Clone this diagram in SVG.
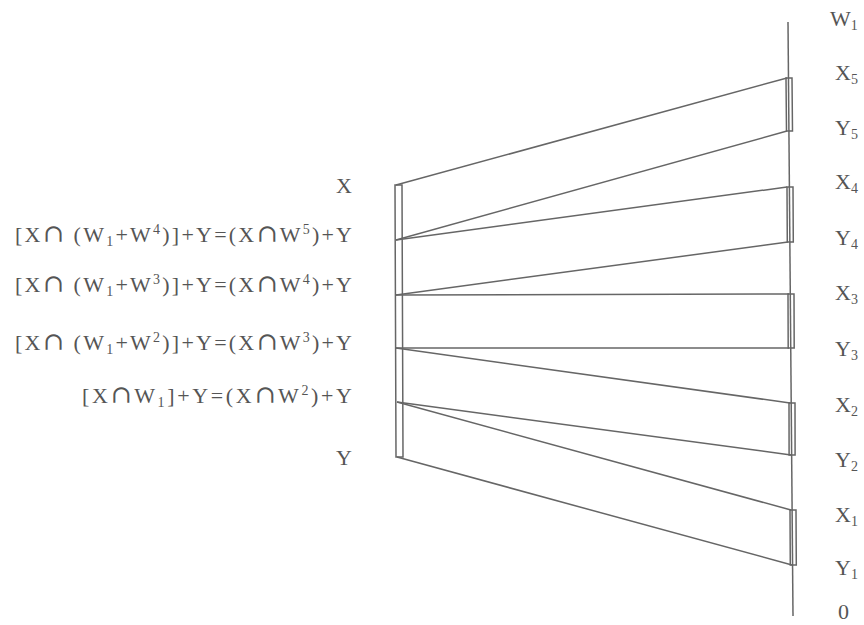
<svg xmlns="http://www.w3.org/2000/svg" width="864" height="625" viewBox="0 0 864 625">
<style>
.t{font-family:"Liberation Serif","Times New Roman",serif;font-size:22px;fill:#555}
.s{font-size:14px}
.c{font-size:25px;font-family:"DejaVu Serif","Liberation Serif",serif;font-weight:300}
.ln{stroke:#666;stroke-width:1.5;fill:none}
.bar{stroke:#666;stroke-width:1.5;fill:none}
</style>
<rect width="864" height="625" fill="#fff"/>
<g id="axis"><line class="ln" x1="788" y1="22" x2="793" y2="616"/></g>
<g id="left-bar"><polygon class="bar" points="395,185 402,185 403,457 396,457"/></g>
<g id="right-bars">
<polygon class="bar" points="786,78 792,78 792.5,131 786.5,131"/>
<polygon class="bar" points="787,187 793,187 793.3,242 787.3,242"/>
<polygon class="bar" points="788,294 794,294 794.2,348 788.2,348"/>
<polygon class="bar" points="789,403 795,403 795.1,455 789.1,455"/>
<polygon class="bar" points="790,510 796,510 796.3,565 790.3,565"/>
</g>
<g id="connectors">
<line class="ln" x1="396" y1="185" x2="787" y2="78"/>
<line class="ln" x1="396" y1="240" x2="787" y2="131"/>
<line class="ln" x1="396" y1="240" x2="787" y2="187"/>
<line class="ln" x1="396" y1="295" x2="788" y2="242"/>
<line class="ln" x1="396" y1="295" x2="789" y2="294"/>
<line class="ln" x1="396" y1="348" x2="789" y2="348"/>
<line class="ln" x1="396" y1="348" x2="790" y2="403"/>
<line class="ln" x1="397" y1="402" x2="791" y2="455"/>
<line class="ln" x1="397" y1="402" x2="791" y2="510"/>
<line class="ln" x1="397" y1="457" x2="792" y2="565"/>
</g>
<g id="left-labels" class="t" text-anchor="end">
<text x="352" y="193">X</text>
<text x="352" y="242" textLength="337" lengthAdjust="spacing">[X<tspan class="c">∩</tspan> (W<tspan class="s" dy="4">1</tspan><tspan dy="-4">+W</tspan><tspan class="s" dy="-8">4</tspan><tspan dy="8">)]+Y=(X</tspan><tspan class="c">∩</tspan>W<tspan class="s" dy="-8">5</tspan><tspan dy="8">)+Y</tspan></text>
<text x="352" y="292" textLength="337" lengthAdjust="spacing">[X<tspan class="c">∩</tspan> (W<tspan class="s" dy="4">1</tspan><tspan dy="-4">+W</tspan><tspan class="s" dy="-8">3</tspan><tspan dy="8">)]+Y=(X</tspan><tspan class="c">∩</tspan>W<tspan class="s" dy="-8">4</tspan><tspan dy="8">)+Y</tspan></text>
<text x="352" y="350" textLength="337" lengthAdjust="spacing">[X<tspan class="c">∩</tspan> (W<tspan class="s" dy="4">1</tspan><tspan dy="-4">+W</tspan><tspan class="s" dy="-8">2</tspan><tspan dy="8">)]+Y=(X</tspan><tspan class="c">∩</tspan>W<tspan class="s" dy="-8">3</tspan><tspan dy="8">)+Y</tspan></text>
<text x="352" y="403" textLength="270" lengthAdjust="spacing">[X<tspan class="c">∩</tspan>W<tspan class="s" dy="4">1</tspan><tspan dy="-4">]+Y=(X</tspan><tspan class="c">∩</tspan>W<tspan class="s" dy="-8">2</tspan><tspan dy="8">)+Y</tspan></text>
<text x="352" y="465">Y</text>
</g>
<g id="right-labels" class="t">
<text x="830" y="26">W<tspan class="s" dy="4">1</tspan></text>
<text x="835" y="80">X<tspan class="s" dy="4">5</tspan></text>
<text x="835" y="135">Y<tspan class="s" dy="4">5</tspan></text>
<text x="835" y="189">X<tspan class="s" dy="4">4</tspan></text>
<text x="835" y="245">Y<tspan class="s" dy="4">4</tspan></text>
<text x="835" y="300">X<tspan class="s" dy="4">3</tspan></text>
<text x="835" y="356">Y<tspan class="s" dy="4">3</tspan></text>
<text x="835" y="412">X<tspan class="s" dy="4">2</tspan></text>
<text x="835" y="467">Y<tspan class="s" dy="4">2</tspan></text>
<text x="835" y="522">X<tspan class="s" dy="4">1</tspan></text>
<text x="835" y="575">Y<tspan class="s" dy="4">1</tspan></text>
<text x="838" y="619">0</text>
</g>
</svg>
